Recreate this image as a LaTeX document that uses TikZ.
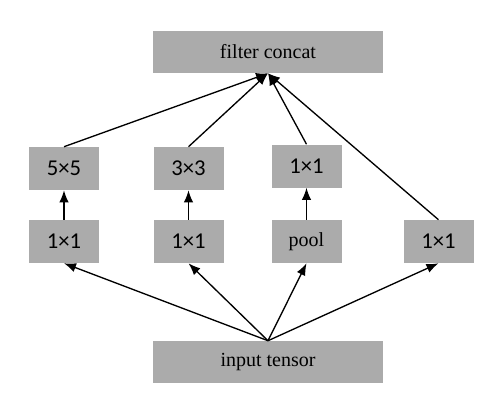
\documentclass[tikz,border=0pt]{standalone}
\usepackage{fontspec}
\setmainfont{Liberation Serif}
\newfontfamily\numfont{Carlito}
\usetikzlibrary{arrows.meta}
\definecolor{boxgray}{RGB}{171,171,171}
\tikzset{
  box/.style={fill=boxgray, inner sep=0pt, minimum width=70\pxu, minimum height=43\pxu, font=\fontsize{15}{18}\selectfont},
  widebox/.style={box, minimum width=230\pxu, minimum height=42\pxu},
  flow/.style={-{Latex[length=9pt,width=7pt]}, line width=1pt}
}
\newcommand{\pxu}{*0.75pt}
\newcommand{\sz}[1]{{\numfont\fontsize{17}{20}\selectfont #1}}
\begin{document}
\begin{tikzpicture}[x=0.75pt, y=-0.75pt]
\useasboundingbox (0,0) rectangle (489,410);
%%%% Top and bottom:
\node[widebox] (concat) at (268,52) {filter concat};
\node[widebox] (input) at (268,362) {input tensor};
%%%% Upper row
\node[box] (fivefive) at (64,168.5) {\sz{5×5}};
\node[box] (threethree) at (188.5,168.5) {\sz{3×3}};
\node[box] (poolproj) at (306.5,166) {\sz{1×1}};
%%%% Lower row
\node[box] (redfive) at (64,241.5) {\sz{1×1}};
\node[box] (redthree) at (188.5,241.5) {\sz{1×1}};
\node[box] (pool) at (306.5,241.5) {pool};
\node[box] (single) at (438.5,241.5) {\sz{1×1}};
%%%% Arrows from input
\foreach \n in {redfive, redthree, pool, single}
  \draw[flow] (input.north) -- (\n.south);
%%%% Arrows inside branches
\draw[flow] (redfive.north) -- (fivefive.south);
\draw[flow] (redthree.north) -- (threethree.south);
\draw[flow] (pool.north) -- (poolproj.south);
%%%% Arrows to concat
\foreach \n in {fivefive, threethree, poolproj, single}
  \draw[flow] (\n.north) -- (concat.south);
\end{tikzpicture}
\end{document}
